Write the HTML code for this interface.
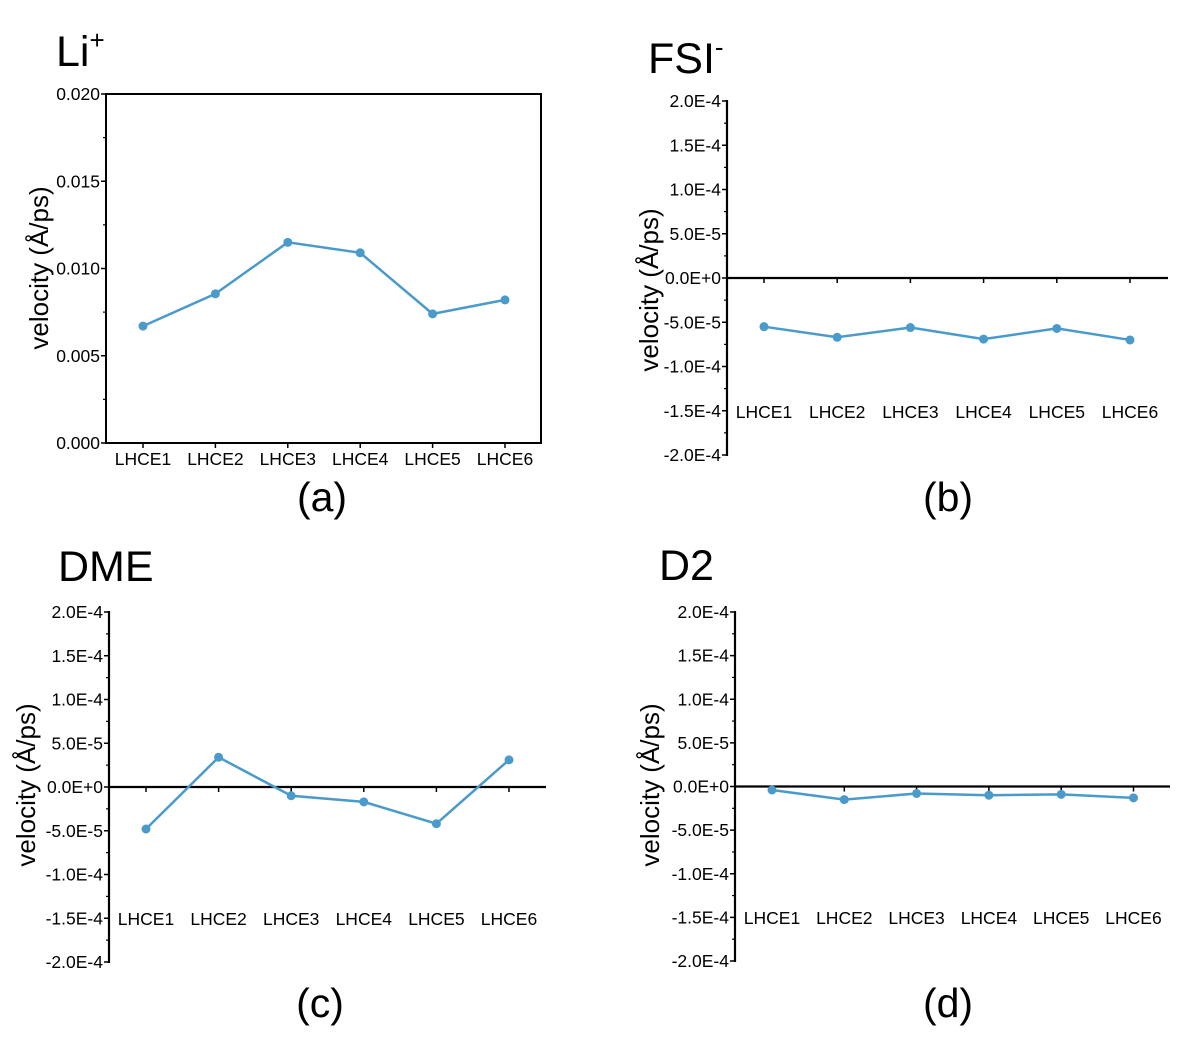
<!DOCTYPE html>
<html><head><meta charset="utf-8"><style>
html,body{margin:0;padding:0;background:#fff;}
svg{display:block;font-family:"Liberation Sans",Arial,sans-serif;}
</style></head><body>
<svg id="fig" width="1177" height="1053" viewBox="0 0 1177 1053" xmlns="http://www.w3.org/2000/svg"></svg>
<script>
const categories = ["LHCE1","LHCE2","LHCE3","LHCE4","LHCE5","LHCE6"];
const liValues = [0.0067, 0.00855, 0.0115, 0.0109, 0.0074, 0.0082];
const fsiValues = [-5.5e-5, -6.7e-5, -5.6e-5, -6.9e-5, -5.7e-5, -7.0e-5];
const dmeValues = [-4.8e-5, 3.4e-5, -1.0e-5, -1.7e-5, -4.2e-5, 3.1e-5];
const d2Values = [-0.4e-5, -1.5e-5, -0.8e-5, -1.0e-5, -0.9e-5, -1.3e-5];
const liTicks = [0, 0.005, 0.010, 0.015, 0.020];
const liTickLabels = ["0.000","0.005","0.010","0.015","0.020"];
const eTicks = [-2e-4,-1.5e-4,-1e-4,-5e-5,0,5e-5,1e-4,1.5e-4,2e-4];
const eTickLabels = ["-2.0E-4","-1.5E-4","-1.0E-4","-5.0E-5","0.0E+0","5.0E-5","1.0E-4","1.5E-4","2.0E-4"];

const NS="http://www.w3.org/2000/svg";
const svg=document.getElementById('fig');
const COLOR="#4a9acb";
function mk(tag,attrs,parent){const e=document.createElementNS(NS,tag);for(const k in attrs)e.setAttribute(k,attrs[k]);(parent||svg).appendChild(e);return e;}

function panel(o){
  const g=mk('g',{});
  
  
  const yScale=v=>o.yBottom-(v-o.yMin)/(o.yMax-o.yMin)*(o.yBottom-o.yTop);
  const xScale=i=>o.x0+i*o.dx;
  const t=mk('text',{x:o.titleX,y:o.titleY,'font-size':43,fill:'#000'},g);
  
  
  t.textContent=o.title;
  if(o.sup){const s=mk('tspan',{'font-size':26,dy:-17},t);s.textContent=o.sup;}
  const c=mk('text',{x:o.capX,y:o.capY,'font-size':41,'text-anchor':'middle',fill:'#000'},g);
  
  
  c.textContent=o.cap;
  const yl=mk('text',{transform:`translate(${o.ylX},${o.ylY}) rotate(-90)`,'font-size':26,'text-anchor':'middle',fill:'#000'},g);
  
  
  yl.textContent='velocity (Å/ps)';
  if(o.box){
    const r=mk('rect',{x:o.axisX,y:o.yTop,width:o.xEnd-o.axisX,height:o.yBottom-o.yTop,fill:'none',stroke:'#000','stroke-width':2},g);
    
    
  }else{
    const ya=mk('line',{x1:o.axisX,y1:o.yTop-1,x2:o.axisX,y2:o.yBottom+1,stroke:'#000','stroke-width':2.2},g);
    
    
    const xa=mk('line',{x1:o.axisX,y1:yScale(0),x2:o.xEnd,y2:yScale(0),stroke:'#000','stroke-width':2.2},g);
    
    
  }
  o.ticks.forEach((v,i)=>{
    const y=yScale(v);
    mk('line',{x1:o.axisX-5,y1:y,x2:o.axisX,y2:y,stroke:'#000','stroke-width':1.5},g);
    if(i<o.ticks.length-1){const ym=yScale((v+o.ticks[i+1])/2);mk('line',{x1:o.axisX-3,y1:ym,x2:o.axisX,y2:ym,stroke:'#000','stroke-width':1.2},g);}
    const tl=mk('text',{x:o.axisX-6,y:y+6,'font-size':17.5,'text-anchor':'end',fill:'#000'},g);
    
    
    tl.textContent=o.tickLabels[i];
  });
  const xAxisY=o.box?o.yBottom:yScale(0);
  categories.forEach((cat,i)=>{
    const x=xScale(i);
    mk('line',{x1:x,y1:xAxisY,x2:x,y2:xAxisY+5,stroke:'#000','stroke-width':1.5},g);
    const xl=mk('text',{x:x,y:o.catY,'font-size':17.5,'text-anchor':'middle',fill:'#000'},g);
    
    
    xl.textContent=cat;
  });
  const pts=o.values.map((v,i)=>xScale(i)+','+yScale(v)).join(' ');
  const pl=mk('polyline',{points:pts,fill:'none',stroke:COLOR,'stroke-width':2.5},g);
  
  
  o.values.forEach((v,i)=>{
    const p=mk('circle',{cx:xScale(i),cy:yScale(v),r:4.5,fill:COLOR},g);
    
    
  });
}

panel({name:'panel-a-li',title:'Li',sup:'+',titleX:56,titleY:66,cap:'(a)',capX:322,capY:511,
  box:true,axisX:106,xEnd:541,yTop:94,yBottom:443,yMin:0,yMax:0.02,ticks:liTicks,tickLabels:liTickLabels,
  x0:143,dx:72.4,catY:465,values:liValues,ylX:48,ylY:268});
panel({name:'panel-b-fsi',title:'FSI',sup:'-',titleX:648,titleY:73,cap:'(b)',capX:948,capY:511,
  box:false,axisX:727,xEnd:1168,yTop:101,yBottom:455,yMin:-2e-4,yMax:2e-4,ticks:eTicks,tickLabels:eTickLabels,
  x0:764,dx:73.2,catY:418,values:fsiValues,ylX:658,ylY:290});
panel({name:'panel-c-dme',title:'DME',titleX:58,titleY:581,cap:'(c)',capX:320,capY:1017,
  box:false,axisX:109,xEnd:546,yTop:612,yBottom:962,yMin:-2e-4,yMax:2e-4,ticks:eTicks,tickLabels:eTickLabels,
  x0:146,dx:72.6,catY:925,values:dmeValues,ylX:35,ylY:785});
panel({name:'panel-d-d2',title:'D2',titleX:659,titleY:580,cap:'(d)',capX:948,capY:1017,
  box:false,axisX:735,xEnd:1170,yTop:612,yBottom:961,yMin:-2e-4,yMax:2e-4,ticks:eTicks,tickLabels:eTickLabels,
  x0:772,dx:72.3,catY:924,values:d2Values,ylX:659,ylY:785});
</script>
</body></html>
